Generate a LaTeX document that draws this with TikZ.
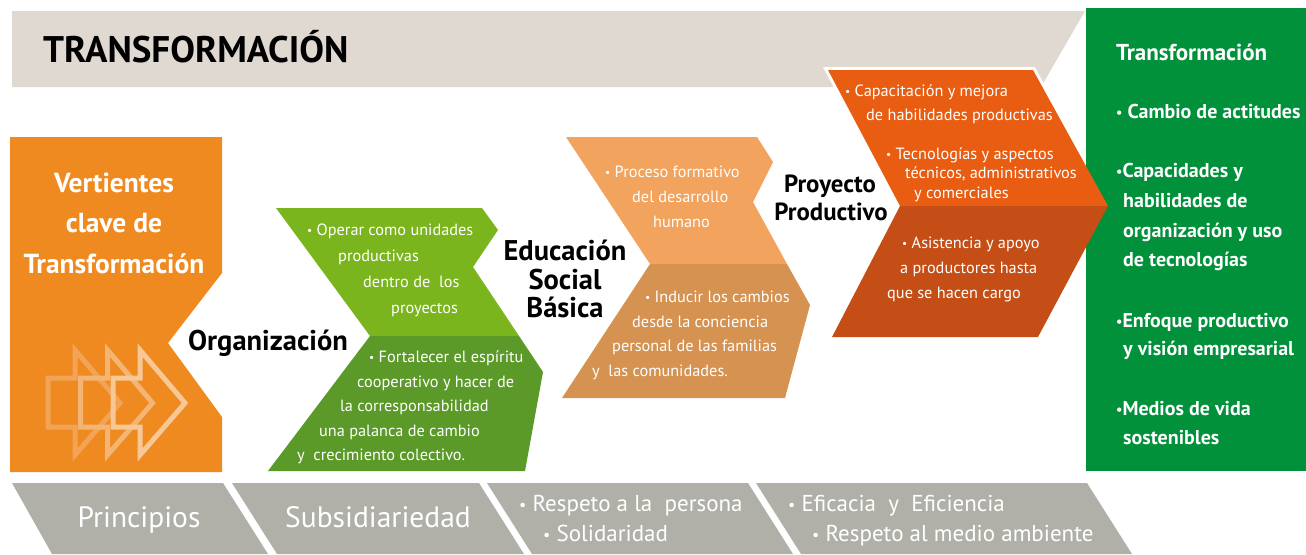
\documentclass[tikz,border=0pt]{standalone}
\usepackage{fontspec}
\setmainfont{PT Sans}
\definecolor{banner}{HTML}{E0D9D2}
\definecolor{vorange}{HTML}{EF8A21}
\definecolor{glight}{HTML}{7AB51D}
\definecolor{gdark}{HTML}{5B9A28}
\definecolor{elight}{HTML}{F2A35D}
\definecolor{edark}{HTML}{D59251}
\definecolor{plight}{HTML}{E85D12}
\definecolor{pdark}{HTML}{C44E16}
\definecolor{rgreen}{HTML}{00913A}
\definecolor{gbar}{HTML}{B0B0A9}
\definecolor{arA}{HTML}{F2A355}
\definecolor{arB}{HTML}{F4B473}
\definecolor{arC}{HTML}{F7C795}
\newcommand\bul{\raisebox{0.05em}{\scalebox{0.7}{•}}}
\begin{document}
\begin{tikzpicture}[x=1pt,y=-1pt,
  body/.style={text=white,inner sep=0pt,font=\fontsize{16.3}{18}\selectfont,anchor=mid west,yshift=-4pt},
  label/.style={text=black,inner sep=0pt,font=\bfseries\fontsize{28.5}{30}\selectfont,anchor=mid,yshift=-8pt},
  plabel/.style={text=black,inner sep=0pt,font=\bfseries\fontsize{24.8}{26}\selectfont,anchor=mid,yshift=-7pt},
  side/.style={text=white,inner sep=0pt,font=\bfseries\fontsize{20}{22}\selectfont,anchor=mid west,yshift=-5pt},
  bigw/.style={text=white,inner sep=0pt,font=\bfseries\fontsize{27.5}{29}\selectfont,anchor=mid,yshift=-7.5pt},
  bar/.style={text=white,inner sep=0pt,font=\fontsize{29.5}{31}\selectfont,anchor=mid,yshift=-8pt},
  barl/.style={text=white,inner sep=0pt,font=\fontsize{23}{25}\selectfont,anchor=mid west,yshift=-6pt},
  arrowout/.style={line width=5pt,line join=miter}
]
\useasboundingbox (0,0) rectangle (1306,554);
\fill[white] (0,0) rectangle (1306,554);

% top banner
\fill[banner] (12,11) -- (1085,11) -- (1041,87) -- (12,87) -- cycle;
\node[inner sep=0pt,font=\bfseries\fontsize{37}{39}\selectfont,anchor=base west] (title) at (43,62) {TRANSFORMACIÓN};

% right green box
\fill[rgreen] (1086,8) rectangle (1306,471);

% left orange box
\fill[vorange] (10,137) -- (222,137) -- (222,273) -- (168,343) -- (222,417) -- (222,472) -- (10,472) -- cycle;
\foreach \d/\c in {0/arA,32.5/arB,65/arC}{
  \draw[arrowout,draw=\c] (48+\d,378) -- (75+\d,378) -- (75+\d,350) -- (120+\d,403) -- (75+\d,455) -- (75+\d,427) -- (48+\d,427) -- cycle;
}
\node[bigw] (v1) at (114,182) {Vertientes};
\node[bigw] (v2) at (114,222) {clave de};
\node[bigw] (v3) at (114,263) {Transformación};

% green chevron
\fill[glight] (276,208) -- (482,208) -- (498,230) -- (473,267) -- (519,336) -- (370,336) -- cycle;
\fill[gdark] (370,336) -- (519,336) -- (543,372) -- (525,471) -- (268,471) -- cycle;

% educacion chevron
\fill[elight] (566,137) -- (757,137) -- (773,162) -- (753,202) -- (787,264) -- (650,264) -- cycle;
\fill[edark] (650,264) -- (787,264) -- (810,305) -- (785,398) -- (562,398) -- cycle;

% proyecto chevron
\begin{scope}
\clip (0,0) rectangle (1080,200);
\draw[white,line width=6pt,line join=miter] (828,70) -- (1033,70) -- (1108,206) -- (1038,337) -- (832,337) -- (900,206) -- cycle;
\end{scope}
\fill[plight] (828,70) -- (1033,70) -- (1108,206) -- (900,206) -- cycle;
\fill[pdark] (900,206) -- (1108,206) -- (1038,337) -- (832,337) -- cycle;

% black labels
\node[label] (org) at (268,340) {Organización};
\node[label] (ed1) at (565,250) {Educación};
\node[label] (ed2) at (565,279) {Social};
\node[label] (ed3) at (565,307) {Básica};
\node[plabel] (pr1) at (830,183) {Proyecto};
\node[plabel] (pr2) at (831,211) {Productivo};

% green texts
\node[body] (ga1) at (307,229) {\bul\ Operar como unidades};
\node[body] (ga2) at (338,255) {productivas};
\node[body] (ga3) at (363,281) {dentro de\ \ los};
\node[body] (ga4) at (391,307) {proyectos};
\node[body] (gb1) at (369,356) {\bul\ Fortalecer el espíritu};
\node[body] (gb2) at (357,381) {cooperativo y hacer de};
\node[body] (gb3) at (340,405) {la corresponsabilidad};
\node[body] (gb4) at (319,430) {una palanca de cambio};
\node[body] (gb5) at (297,454) {y\ \ crecimiento colectivo.};

% educacion texts
\node[body] (ea1) at (605,171) {\bul\ Proceso formativo};
\node[body] (ea2) at (632,196) {del desarrollo};
\node[body] (ea3) at (653,221) {humano};
\node[body] (eb1) at (645,296) {\bul\ Inducir los cambios};
\node[body] (eb2) at (632,321) {desde la conciencia};
\node[body] (eb3) at (612,345) {personal de las familias};
\node[body] (eb4) at (592,370) {y\ \ las comunidades.};

% proyecto texts
\node[body] (pa1) at (845,90) {\bul\ Capacitación y mejora};
\node[body] (pa2) at (866,114) {de habilidades productivas};
\node[body] (pa3) at (886,153) {\bul\ Tecnologías y aspectos};
\node[body] (pa4) at (905,172) {técnicos, administrativos};
\node[body] (pa5) at (914,192) {y comerciales};
\node[body] (pb1) at (902,242) {\bul\ Asistencia y apoyo};
\node[body] (pb2) at (900,267) {a productores hasta};
\node[body] (pb3) at (887,292) {que se hacen cargo};

% right box texts
\node[side,font=\bfseries\fontsize{23}{25}\selectfont,yshift=-1pt] (s0) at (1116,52) {Transformación};
\node[side] (s1) at (1116,111) {\bul\ Cambio de actitudes};
\node[side] (s2) at (1116,170) {\bul Capacidades y};
\node[side] (s3) at (1123,200) {habilidades de};
\node[side] (s4) at (1123,230) {organización y uso};
\node[side] (s5) at (1123,259) {de tecnologías};
\node[side] (s6) at (1116,320) {\bul Enfoque productivo};
\node[side] (s7) at (1123,348) {y visión empresarial};
\node[side] (s8) at (1116,408) {\bul Medios de vida};
\node[side] (s9) at (1123,437) {sostenibles};

% bottom bar
\fill[gbar] (12,483) -- (223,483) -- (268,554) -- (52,554) -- cycle;
\fill[gbar] (232,483) -- (479,483) -- (524,554) -- (277,554) -- cycle;
\fill[gbar] (487,483) -- (748,483) -- (793,554) -- (532,554) -- cycle;
\fill[gbar] (756,483) -- (1087,483) -- (1132,554) -- (801,554) -- cycle;
\node[bar] (b1) at (139,517) {Principios};
\node[bar] (b2) at (378,517) {Subsidiariedad};
\node[barl] (b3) at (519,503) {\bul\ Respeto a la\ \ persona};
\node[barl] (b4) at (543,533) {\bul\ Solidaridad};
\node[barl] (b5) at (788,503) {\bul\ Eficacia\ \ y\ \ Eficiencia};
\node[barl] (b6) at (812,533) {\bul\ Respeto al medio ambiente};
\end{tikzpicture}
\end{document}
